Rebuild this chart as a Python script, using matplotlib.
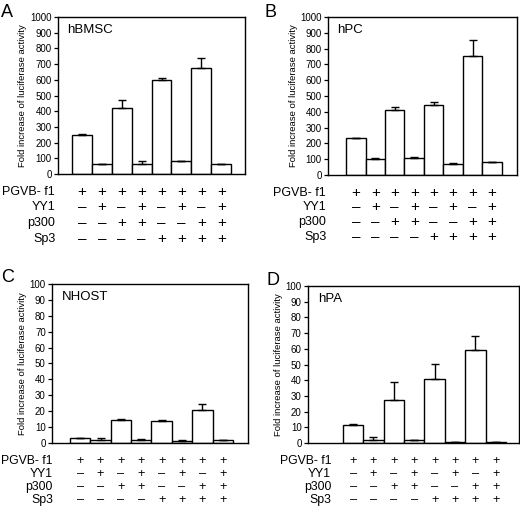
import matplotlib.pyplot as plt
import numpy as np

plt.rcParams['font.family'] = ['Liberation Sans', 'DejaVu Sans']

# values (mean, upper error)
hbmsc = [248, 65, 420, 65, 600, 80, 675, 62]
hbmsc_err = [5, 2, 50, 18, 12, 4, 63, 4]
hpc = [232, 100, 410, 105, 445, 70, 755, 82]
hpc_err = [5, 5, 18, 12, 15, 4, 100, 0]
nhost = [3.0, 1.8, 14.5, 2.0, 14.0, 1.3, 20.5, 1.8]
nhost_err = [0, 1.5, 0.5, 0.6, 0.6, 0.8, 3.8, 0]
hpa = [11.5, 2.0, 27.5, 2.0, 40.5, 0.5, 59.5, 0.5]
hpa_err = [0.5, 2.0, 11.5, 0, 10, 0, 8.5, 0]

row_names = ['PGVB- f1', 'YY1', 'p300', 'Sp3']
rows = [
    ['+', '+', '+', '+', '+', '+', '+', '+'],
    ['–', '+', '–', '+', '–', '+', '–', '+'],
    ['–', '–', '+', '+', '–', '–', '+', '+'],
    ['–', '–', '–', '–', '+', '+', '+', '+'],
]

fig = plt.figure(figsize=(5.2, 5.18), dpi=100)

panels = [
    # letter, cell, values, err, ymax, step, axes rect, xlim, letter pos, row y's, label x, sizes
    ('A', 'hBMSC', hbmsc, hbmsc_err, 1000, 100, [0.1115, 0.664, 0.36, 0.303], (-1.2, 8.2),
     (0.002, 0.992), [-0.115, -0.21, -0.31, -0.415], -0.015, (9, 11)),
    ('B', 'hPC', hpc, hpc_err, 1000, 100, [0.631, 0.662, 0.363, 0.305], (-1.42, 8.27),
     (0.508, 0.992), [-0.115, -0.205, -0.30, -0.395], -0.01, (9, 11)),
    ('C', 'NHOST', nhost, nhost_err, 100, 10, [0.1, 0.1448, 0.377, 0.307], (-1.38, 8.24),
     (0.002, 0.48), [-0.113, -0.195, -0.277, -0.358], 0.005, (8.8, 9.2)),
    ('D', 'hPA', hpa, hpa_err, 100, 10, [0.592, 0.1448, 0.406, 0.303], (-2.22, 8.14),
     (0.513, 0.475), [-0.115, -0.197, -0.28, -0.363], 0.11, (8.8, 9.2)),
]

x = np.arange(8)
for letter, cell, vals, err, ymax, step, rect, xlim, lpos, ry, lx, sz in panels:
    ax = fig.add_axes(rect)
    ax.bar(x, vals, width=1.0, color='white', edgecolor='black', linewidth=1.0,
           yerr=[np.zeros(8), err], capsize=3,
           error_kw=dict(ecolor='black', elinewidth=1.0, capthick=1.0))
    ax.set_xlim(*xlim)
    ax.set_ylim(0, ymax)
    ax.set_yticks(np.arange(0, ymax + 1, step))
    ax.set_xticks([])
    ax.tick_params(axis='y', direction='out', length=3, width=0.9, labelsize=7, pad=1.5)
    for s in ax.spines.values():
        s.set_linewidth(1.0)
    ax.set_ylabel('Fold increase of luciferase activity', fontsize=6.8, labelpad=2)
    ax.text(0.05, 0.92, cell, transform=ax.transAxes, fontsize=9.5, va='center')
    fig.text(lpos[0], lpos[1], letter, fontsize=13, va='top', ha='left')
    for name, syms, yy in zip(row_names, rows, ry):
        ax.text(lx, yy, name, transform=ax.transAxes, ha='right', va='center', fontsize=sz[0])
        for i, s in enumerate(syms):
            ax.text(i, yy, s, transform=ax.get_xaxis_transform(), ha='center', va='center',
                    fontsize=sz[1], clip_on=False)

fig.savefig('out.png', dpi=100)
